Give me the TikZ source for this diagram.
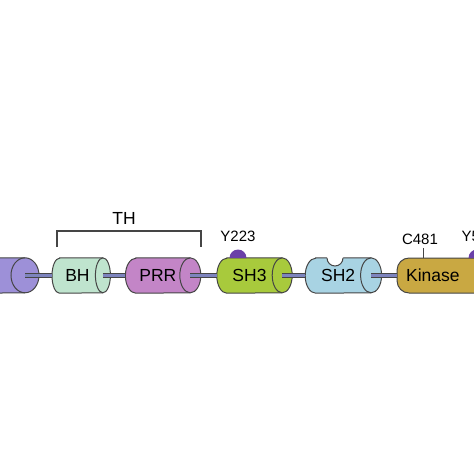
\documentclass[tikz,border=0pt]{standalone}
\usepackage{fontspec}
\setmainfont{Liberation Sans}
\usetikzlibrary{positioning,backgrounds}
\definecolor{edgec}{HTML}{454545}
\definecolor{purc}{HTML}{9D90D8}
\definecolor{bhc}{HTML}{BFE4CE}
\definecolor{prrc}{HTML}{C385C7}
\definecolor{shthreec}{HTML}{A8CA3C}
\definecolor{shtwoc}{HTML}{A8D3E3}
\definecolor{kinc}{HTML}{C9A842}
\definecolor{linkc}{HTML}{7D84BE}
\definecolor{dotc}{HTML}{6A40A8}
% cylinder round a domain box: node, end radius, fill
\newcommand\drawdom[3]{%
  \filldraw[fill=#3, domline] ([xshift=#2pt]#1.north west) -- (#1.north east)
    arc[start angle=90, end angle=-90, x radius=#2pt, y radius=17.5pt]
    -- ([xshift=#2pt]#1.south west)
    arc[start angle=270, end angle=90, x radius=#2pt, y radius=17.5pt] -- cycle;
  \draw[domline] (#1.north east) arc[start angle=90, end angle=270, x radius=#2pt, y radius=17.5pt];}

\begin{document}
\begin{tikzpicture}[x=1pt, y=-1pt,
      dom/.style={rectangle, minimum height=35pt, inner sep=0pt, font=\fontsize{17.5}{20}\selectfont},
      domline/.style={draw=edgec, line width=1pt},
      link/.style={draw=edgec, line width=0.7pt, double=linkc, double distance=2.8pt},
      site/.style={font=\fontsize{15}{18}\selectfont},
      dot/.style={fill=dotc}]
    \useasboundingbox (0,0) rectangle (474,474);
    \clip (0,0) rectangle (474,474);
    % domains
    \node[dom, minimum width=60pt, anchor=east] (pur) at (25,275.5) {};
    \node[dom, minimum width=50.5pt, right=27pt of pur] (bh) {BH};
    \node[dom, minimum width=64.5pt, right=22.5pt of bh] (prr) {PRR};
    \node[dom, minimum width=65pt, right=26.5pt of prr] (sh3) {SH3};
    \node[dom, minimum width=65.5pt, right=23pt of sh3] (sh2) {SH2};
    \node[dom, domline, fill=kinc, rounded corners=12pt, minimum width=110pt,
      text width=92pt, align=left, inner xsep=9pt, right=25.5pt of sh2] (kin) {Kinase};
    \begin{scope}[on background layer]
      \drawdom{pur}{14}{purc}
      \drawdom{bh}{7.5}{bhc}
      \drawdom{prr}{10.5}{prrc}
      \drawdom{sh3}{10}{shthreec}
      \drawdom{sh2}{10.5}{shtwoc}
    \end{scope}
    % linkers
    \draw[link] (pur.east) -- (bh.west);
    \draw[link] (bh.east) -- (prr.west);
    \draw[link] (prr.east) -- (sh3.west);
    \draw[link] (sh3.east) -- (sh2.west);
    \draw[link] (sh2.east) -- (kin.west);
    % SH2 pocket
    \fill[white] (327,256.7) -- (327,258) arc[start angle=180, end angle=360, radius=8pt] -- (343,256.7) -- cycle;
    \draw[domline] (327,258) arc[start angle=180, end angle=360, radius=8pt];
    % sites
    \fill[dot] (229.5,258) arc[start angle=180, end angle=0, radius=8.5pt] -- cycle;
    \fill[dot] (468.5,258) arc[start angle=180, end angle=0, radius=8.5pt] -- cycle;
    \node[site] (y223) at (238,236) {Y223};
    \node[site] (c481) at (420,239) {C481};
    \node[site, anchor=west] (y551) at (458,236) {Y551};
    \coordinate (tick) at (423,248);
    \draw[edgec, line width=0.8pt] (tick) -- (tick |- kin.north);
    % TH bracket
    \node[font=\fontsize{17.5}{20}\selectfont] (th) at (124,218) {TH};
    \draw[edgec, line width=1.1pt] (57,247) |- (201,231) -- (201,247);
  \end{tikzpicture}
\end{document}
